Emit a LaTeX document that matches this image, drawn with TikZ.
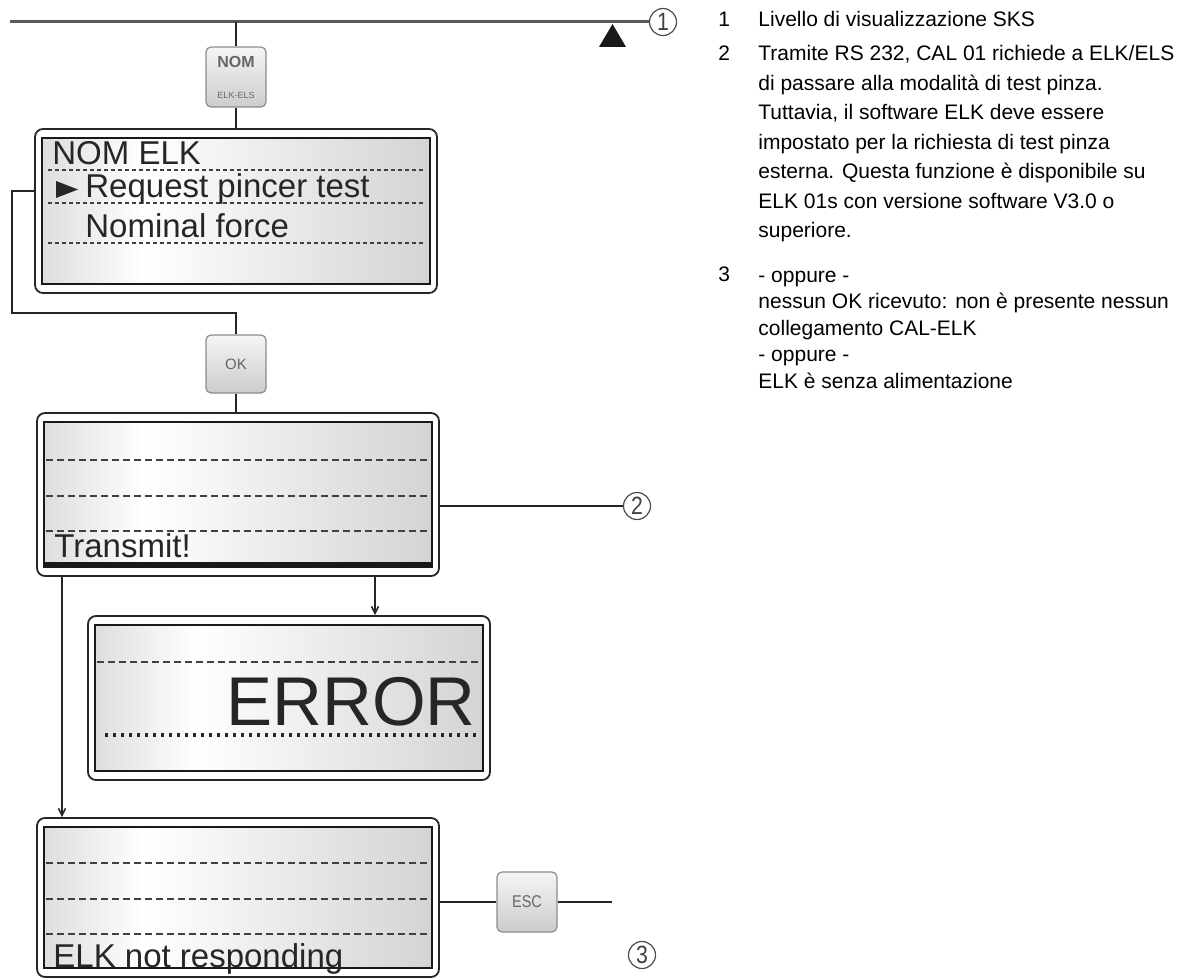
\documentclass[tikz,border=0pt]{standalone}
\usepackage{fontspec}
\setmainfont{Liberation Sans}
\newfontfamily\lcdfont{Liberation Sans}
\newfontfamily\keyfont[FakeStretch=0.85]{Liberation Sans}
\usetikzlibrary{arrows.meta,positioning}

\colorlet{lcdlo}{black!13}
\colorlet{lcdhi}{black!17}
\pgfdeclarehorizontalshading{lcdglass}{100bp}{color(0bp)=(lcdlo); color(25bp)=(lcdlo); color(38bp)=(white); color(75bp)=(lcdhi); color(100bp)=(lcdhi)}

\tikzset{
  wire/.style={draw=black!85, line width=0.8pt},
  bus/.style={draw=black!65, line width=1.5pt},
  flow/.style={wire, -{Straight Barb[length=3.5pt,width=3.5pt]}},
  lcdframe/.style={draw=black!85, line width=0.9pt, rounded corners=4pt, fill=white,
    inner sep=0pt, minimum width=201pt, minimum height=82pt},
  lcdscreen/.style={shading=lcdglass, draw=black!90, line width=1pt},
  lcdrule/.style={draw=black!75, line width=0.75pt, dash pattern=on 3.5pt off 2pt},
  lcdfine/.style={draw=black!75, line width=0.7pt, dash pattern=on 2pt off 1.5pt},
  lcddots/.style={draw=black!85, line width=1.7pt, dash pattern=on 1.7pt off 2.3pt},
  lcdtext/.style={anchor=base west, inner sep=0pt, text=black!85,
    font=\lcdfont\fontsize{16.5}{18}\selectfont},
  keycap/.style={draw=black!45, line width=0.6pt, rounded corners=2.5pt,
    top color=black!4, bottom color=black!20, minimum width=30pt, minimum height=30pt,
    inner sep=0pt, text=black!60, align=center},
  numcirc/.style={circle, draw=black!70, line width=0.6pt, minimum size=13.5pt, inner sep=0pt,
    font=\keyfont\fontsize{12.5}{12.5}\selectfont, text=black!75},
  legend/.style={anchor=base west, inner sep=0pt, align=left,
    font=\fontsize{10.5}{14.75}\selectfont},
}

\begin{document}
\begin{tikzpicture}[x=0.5pt,y=-0.5pt]
\useasboundingbox (0,0) rectangle (1198,978);

% livello SKS
\coordinate (busstart) at (10,22);
\node[numcirc] (n1) at (663,22) {1};
\draw[bus] (busstart) -- (n1);
\fill[black!90] (599,47) -- (612.5,24) -- (626,47) -- cycle;

% tasto NOM
\node[keycap] (nom) at (236,77) {{\bfseries\fontsize{8}{8}\selectfont NOM}\\[3.5pt]{\fontsize{4.5}{5}\selectfont ELK-ELS}};

% display NOM ELK
\node[lcdframe] (d1) at (236,211) {};
\shadedraw[lcdscreen] ([xshift=4pt,yshift=-5pt]d1.north west) rectangle ([xshift=-4pt,yshift=5pt]d1.south east);
\foreach \yy in {170,203,243}
  \draw[lcdfine] (48,\yy) -- (426,\yy);
\node[lcdtext] (nomelk) at (52,165) {NOM ELK};
\fill[black!85] (56,181) -- (78,189.5) -- (56,198) -- cycle;
\node[lcdtext] (reqtest) at (85,198) {Request pincer test};
\node[lcdtext] (nomforce) at (85,238) {Nominal force};
\draw[wire] (nom) -- (nom |- busstart);
\draw[wire] (nom) -- (d1);

% tasto OK
\node[keycap, minimum height=29pt] (ok) at (236,364) {\fontsize{7.5}{8}\selectfont OK};
\coordinate (loopcorner) at (12,313);
\draw[wire] ([yshift=10pt]d1.west) -| (loopcorner) -| (ok.north);

% display Transmit
\node[lcdframe, minimum height=81.5pt] (d2) at (238,494.5) {};
\shadedraw[lcdscreen] ([xshift=4pt,yshift=-5pt]d2.north west) rectangle ([xshift=-4pt,yshift=5pt]d2.south east);
\foreach \yy in {460,496,531}
  \draw[lcdrule] (46,\yy) -- (430,\yy);
\fill[black!90] (45,562) rectangle (431,567);
\node[lcdtext] (transmit) at (54,557) {Transmit!};
\draw[wire] (ok) -- (ok |- d2.north);
\node[numcirc] (n2) at (637,506) {2};
\draw[wire] (d2.east |- n2) -- (n2);

% display ERROR
\node[lcdframe] (d3) at (289,698) {};
\shadedraw[lcdscreen] ([xshift=4pt,yshift=-5pt]d3.north west) rectangle ([xshift=-4pt,yshift=5pt]d3.south east);
\draw[lcdrule] (97,662) -- (481,662);
\draw[lcddots] (105,735) -- (477,735);
\node[lcdtext, anchor=base east, font=\lcdfont\fontsize{34.5}{36}\selectfont] (error) at (476,725) {ERROR};
\coordinate (d2r) at ([xshift=68.5pt]d2.south);
\draw[flow] (d2r) -- (d2r |- d3.north);

% display ELK not responding
\node[lcdframe, minimum height=79.5pt] (d4) at (238,897.5) {};
\shadedraw[lcdscreen] ([xshift=4pt,yshift=-5pt]d4.north west) rectangle ([xshift=-4pt,yshift=5pt]d4.south east);
\foreach \yy in {863,899,934}
  \draw[lcdrule] (46,\yy) -- (430,\yy);
\node[lcdtext] (notresp) at (53,967) {ELK not responding};
\coordinate (d2l) at ([xshift=-88pt]d2.south);
\draw[flow] (d2l) -- (d2l |- d4.north);

% tasto ESC
\node[keycap] (esc) at (527,902) {\keyfont\fontsize{8.5}{8.5}\selectfont ESC};
\coordinate (escend) at (612,902);
\draw[wire] (d4.east |- esc) -- (esc);
\draw[wire] (esc) -- (escend);
\node[numcirc] (n3) at (642,955) {3};

% legenda (ancora sulla ultima riga)
\node[legend] (k1) at (718,27) {1};
\node[legend] (t1) at (758,27) {Livello di visualizzazione SKS};
\node[legend] (k2) at (718,61) {2};
\node[legend] (t2) at (758,238) {Tramite RS 232, CAL 01 richiede a ELK/ELS\\
  di passare alla modalità di test pinza.\\
  Tuttavia, il software ELK deve essere\\
  impostato per la richiesta di test pinza\\
  esterna. Questa funzione è disponibile su\\
  ELK 01s con versione software V3.0 o\\
  superiore.};
\node[legend] (k3) at (718,282) {3};
\node[legend, font=\fontsize{10.5}{13.25}\selectfont] (t3) at (758,388) {- oppure -\\
  nessun OK ricevuto: non è presente nessun\\
  collegamento CAL-ELK\\
  - oppure -\\
  ELK è senza alimentazione};
\end{tikzpicture}
\end{document}
